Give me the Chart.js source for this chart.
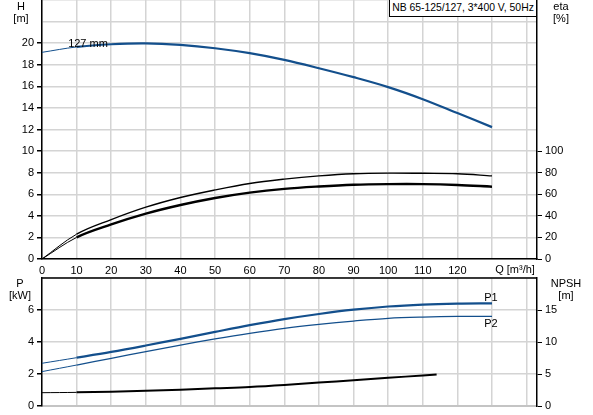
<!DOCTYPE html>
<html lang="en">
<head>
  <meta charset="UTF-8">
  <script src="https://cdn.jsdelivr.net/npm/chart.js"></script>
  <title>NB 65-125/127 pump curves</title>
  <style>
    body {
      margin: 0;
      padding: 0;
      background: #fff;
      font-family: "Liberation Sans", Arial, sans-serif;
    }
    .wrap {
      position: relative;
      width: 593px;
      height: 415px;
      overflow: hidden;
    }
    canvas {
      position: absolute;
      left: 0;
    }
    .lbl {
      position: absolute;
      font-size: 11px;
      line-height: 12px;
      color: #000;
      white-space: nowrap;
      transform: translate(-50%, -50%);
      text-align: center;
    }
    .titlebox {
      position: absolute;
      left: 389px;
      top: -1px;
      width: 146px;
      height: 16px;
      border: 1px solid #000;
      background: #fff;
      font-size: 10.4px;
      line-height: 16px;
      text-align: center;
      white-space: nowrap;
      z-index: 2;
    }
  </style>
</head>
<body>
  <div class="wrap">
    <canvas id="topChart" width="593" height="275" style="top:0"></canvas>
    <canvas id="bottomChart" width="593" height="140" style="top:275px"></canvas>

    <div class="titlebox">NB 65-125/127, 3*400 V, 50Hz</div>

    <div class="lbl" style="left:21px;top:6px">H</div>
    <div class="lbl" style="left:21px;top:18px">[m]</div>
    <div class="lbl" style="left:561px;top:6px">eta</div>
    <div class="lbl" style="left:561px;top:18px">[%]</div>
    <div class="lbl" style="left:20px;top:283px">P</div>
    <div class="lbl" style="left:20px;top:295px">[kW]</div>
    <div class="lbl" style="left:566px;top:283px">NPSH</div>
    <div class="lbl" style="left:566px;top:295px">[m]</div>

    <div class="lbl" style="left:515px;top:269px">Q [m&sup3;/h]</div>
    <div class="lbl" style="left:88px;top:43px">127 mm</div>
    <div class="lbl" style="left:491px;top:297px">P1</div>
    <div class="lbl" style="left:491px;top:323px">P2</div>
  </div>

  <script>
    // flow points
    const qFlow = [0, 10, 20, 30, 40, 50, 60, 70, 80, 90, 100, 110, 120, 130];
    const head = [19.15, 19.65, 19.9, 19.98, 19.84, 19.53, 19.07, 18.45, 17.68, 16.85, 15.93, 14.81, 13.52, 12.22];
    const etaUpper = [0, 23, 36.5, 48, 57, 64, 70, 74, 77, 79, 79.6, 79.4, 79, 77];
    const etaLower = [0, 20, 32, 42, 50, 56.5, 61.5, 65, 67.2, 68.8, 69.4, 69.4, 68.6, 67];
    const powerP1 = [2.67, 3.02, 3.38, 3.78, 4.2, 4.63, 5.05, 5.43, 5.75, 6.02, 6.22, 6.34, 6.4, 6.42];
    const powerP2 = [2.15, 2.56, 2.98, 3.4, 3.81, 4.19, 4.54, 4.85, 5.1, 5.31, 5.48, 5.56, 5.6, 5.6];
    const npshFlow = [0, 10, 20, 30, 40, 50, 60, 70, 80, 90, 100, 110, 114];
    const npsh = [2.08, 2.13, 2.24, 2.4, 2.55, 2.76, 2.97, 3.28, 3.66, 4.03, 4.4, 4.78, 4.93];

    const BLUE = '#134f8c';
    const GRID = '#d4d4d4';
    const FONT = { family: '"Liberation Sans", Arial, sans-serif', size: 11 };

    Chart.defaults.color = '#000';
    Chart.defaults.font = FONT;

    function pts(xs, ys) {
      return xs.map((x, i) => ({ x: x, y: ys[i] }));
    }

    // one smooth line, thin over the first segment and thicker after it
    function curve(xs, ys, color, thickW, axis) {
      return {
        data: pts(xs, ys),
        borderColor: color,
        borderWidth: thickW,
        segment: { borderWidth: c => (c.p0DataIndex < 1 ? 1 : thickW) },
        pointRadius: 0,
        fill: false,
        tension: 0.35,
        yAxisID: axis
      };
    }

    const fixWidth = w => s => { s.width = w; s.paddingTop = 0; s.paddingBottom = 0; };
    const fixHeight = h => s => { s.height = h; s.paddingLeft = 0; s.paddingRight = 0; };

    const xScale = (withLabels, h) => ({
      type: 'linear',
      min: 0,
      max: 143,
      afterFit: fixHeight(h),
      border: withLabels ? { color: '#000', width: 1.5 } : { color: '#c4c4c4', width: 2 },
      grid: { color: GRID, lineWidth: 1.5, tickLength: 3, tickColor: 'transparent' },
      ticks: {
        display: withLabels,
        stepSize: 10,
        includeBounds: false,
        autoSkip: false,
        maxRotation: 0,
        padding: 2,
        callback: v => (v <= 120 ? v : '')
      }
    });

    const leftScale = (max, step, lastLabel) => ({
      position: 'left',
      min: 0,
      max: max,
      afterFit: fixWidth(42),
      border: { color: '#000', width: 1.5 },
      grid: {
        color: GRID,
        lineWidth: 1.5,
        tickLength: 5,
        tickColor: c => (c.tick && c.tick.value <= lastLabel ? '#000' : 'transparent')
      },
      ticks: { stepSize: step, padding: 3, callback: v => (v <= lastLabel ? v : '') }
    });

    const rightScale = (max, step, lastLabel) => ({
      position: 'right',
      min: 0,
      max: max,
      afterFit: fixWidth(56),
      border: { color: '#000', width: 1.5 },
      grid: {
        drawOnChartArea: false,
        tickLength: 5,
        color: c => (c.tick && c.tick.value <= lastLabel ? '#000' : 'transparent')
      },
      ticks: { stepSize: step, padding: 3, callback: v => (v <= lastLabel ? v : '') }
    });

    const topBorder = {
      id: 'topBorder',
      afterDraw(chart) {
        const a = chart.chartArea;
        const ctx = chart.ctx;
        ctx.save();
        ctx.strokeStyle = '#000';
        ctx.lineWidth = 1.5;
        ctx.beginPath();
        ctx.moveTo(a.left, a.top);
        ctx.lineTo(a.right, a.top);
        ctx.stroke();
        ctx.restore();
      }
    };

    const common = {
      responsive: false,
      animation: false,
      plugins: { legend: { display: false }, tooltip: { enabled: false } }
    };

    new Chart(document.getElementById('topChart'), {
      type: 'line',
      data: {
        datasets: [
          curve(qFlow, head, BLUE, 2.2, 'yH'),
          curve(qFlow, etaUpper, '#000', 1.4, 'yEta'),
          curve(qFlow, etaLower, '#000', 2.4, 'yEta')
        ]
      },
      options: Object.assign({}, common, {
        layout: { padding: 0 },
        scales: {
          x: xScale(true, 16),
          yH: leftScale(24, 2, 20),
          yEta: rightScale(240, 20, 100)
        }
      })
    });

    new Chart(document.getElementById('bottomChart'), {
      type: 'line',
      data: {
        datasets: [
          curve(qFlow, powerP1, BLUE, 2.2, 'yP'),
          curve(qFlow, powerP2, BLUE, 1.3, 'yP'),
          curve(npshFlow, npsh, '#000', 2, 'yN')
        ]
      },
      options: Object.assign({}, common, {
        layout: { padding: { top: 3 } },
        scales: {
          x: xScale(false, 9),
          yP: leftScale(8, 2, 6),
          yN: rightScale(20, 5, 15)
        }
      }),
      plugins: [topBorder]
    });
  </script>
</body>
</html>
